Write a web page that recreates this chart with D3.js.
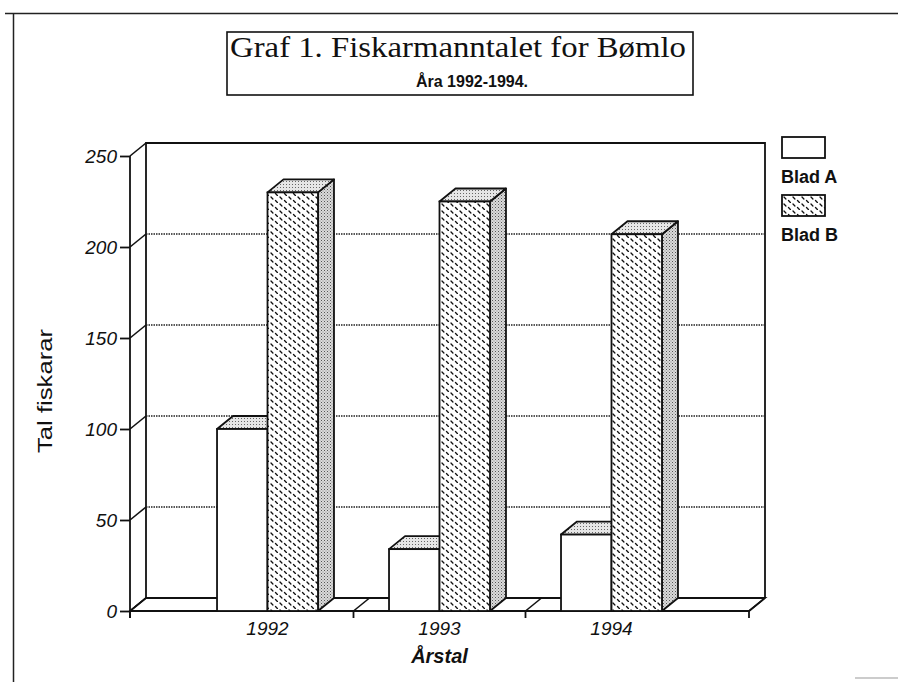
<!DOCTYPE html>
<html><head><meta charset="utf-8">
<script src="https://cdn.jsdelivr.net/npm/d3@7"></script>
<style>html,body{margin:0;padding:0;background:#fff;}svg{display:block;}</style>
</head><body>
<script>
const categories = ["1992", "1993", "1994"];
const seriesNames = ["Blad A", "Blad B"];
const bladA = [100, 34, 42];
const bladB = [230, 225, 207];
const yTicks = [0, 50, 100, 150, 200, 250];
const titleText = "Graf 1. Fiskarmanntalet for Bømlo";
const subtitleText = "Åra 1992-1994.";
const yLabel = "Tal fiskarar";
const xLabel = "Årstal";

const W = 898, H = 682;
const DX = 16, DY = 13;
const sans = "'Liberation Sans', Arial, Helvetica, sans-serif";

const svg = d3.select("body").append("svg").attr("width", W).attr("height", H);
const defs = svg.append("defs");

// diamond-plate pattern
const pB = defs.append("pattern").attr("id", "plate").attr("patternUnits", "userSpaceOnUse")
  .attr("width", 9).attr("height", 7);
pB.append("rect").attr("width", 9).attr("height", 7).attr("fill", "#fff");
pB.append("path").attr("d", "M1,1 L2.9,3 M5.5,4.5 L7.4,6.5")
  .attr("stroke", "#111").attr("stroke-width", 1.3).attr("stroke-linecap", "round");
// stipple patterns
const pS = defs.append("pattern").attr("id", "stipSide").attr("patternUnits", "userSpaceOnUse")
  .attr("width", 3).attr("height", 3);
pS.append("rect").attr("width", 3).attr("height", 3).attr("fill", "#dadada");
pS.append("rect").attr("x", 0).attr("y", 0).attr("width", 1).attr("height", 1).attr("fill", "#555");
pS.append("rect").attr("x", 1.5).attr("y", 1.5).attr("width", 1).attr("height", 1).attr("fill", "#888");
const pT = defs.append("pattern").attr("id", "stipTop").attr("patternUnits", "userSpaceOnUse")
  .attr("width", 3).attr("height", 3);
pT.append("rect").attr("width", 3).attr("height", 3).attr("fill", "#e6e6e6");
pT.append("rect").attr("x", 1).attr("y", 1).attr("width", 1).attr("height", 1).attr("fill", "#666");

// outer frame
svg.append("path").attr("d", `M5,13.5 L898,13.5 M13.5,13 L13.5,682`)
  .attr("stroke", "#222").attr("stroke-width", 1.5).attr("fill", "none");
svg.append("line").attr("x1", 855).attr("x2", 898).attr("y1", 678).attr("y2", 678)
  .attr("stroke", "#bbb").attr("stroke-width", 1.5);

// title box
svg.append("rect").attr("x", 227).attr("y", 32).attr("width", 466).attr("height", 63)
  .attr("fill", "#fff").attr("stroke", "#111").attr("stroke-width", 1.6);
svg.append("text").attr("x", 458).attr("y", 57).attr("text-anchor", "middle")
  .attr("font-family", "'Liberation Serif', 'DejaVu Serif', serif").attr("font-size", 29)
  .attr("textLength", 456).attr("lengthAdjust", "spacingAndGlyphs")
  .attr("fill", "#111").text(titleText);
svg.append("text").attr("x", 472).attr("y", 87).attr("text-anchor", "middle")
  .attr("font-family", sans).attr("font-weight", "bold").attr("font-size", 16)
  .attr("fill", "#111").text(subtitleText);

// scales
const y = d3.scaleLinear().domain([0, 250]).range([611, 156]);
const x = d3.scaleBand().domain(categories).range([130, 749]).paddingInner(0.413).paddingOuter(0.506);
const xs = d3.scaleBand().domain(seriesNames).range([0, x.bandwidth()]);
const y0 = y(0);
const xL = x.range()[0], xR = x.range()[1];

const g = svg.append("g");
const stroke = "#111";

// back wall
g.append("path")
  .attr("d", `M${xL + DX},${y0 - DY} L${xL + DX},${y(250) - DY} L${xR + DX},${y(250) - DY} L${xR + DX},${y0 - DY}`)
  .attr("fill", "none").attr("stroke", stroke).attr("stroke-width", 1.8);
// gridlines (dotted) on back wall
g.selectAll(".grid").data(yTicks.filter(v => v > 0 && v < 250)).join("line")
  .attr("x1", xL + DX).attr("x2", xR + DX)
  .attr("y1", d => y(d) - DY).attr("y2", d => y(d) - DY)
  .attr("stroke", "#222").attr("stroke-width", 1.3).attr("stroke-dasharray", "1.5,1");
// side wall diagonals
g.selectAll(".diag").data(yTicks).join("line")
  .attr("x1", xL).attr("y1", d => y(d)).attr("x2", xL + DX).attr("y2", d => y(d) - DY)
  .attr("stroke", stroke).attr("stroke-width", 1.6);

// floor
const bounds = [xL, ...categories.slice(1).map(c => x(c) - x.step() * x.paddingInner() / 2), xR];
g.append("path")
  .attr("d", `M${xL},${y0} L${xR},${y0} L${xR + DX},${y0 - DY} L${xL + DX},${y0 - DY} Z`)
  .attr("fill", "#fff").attr("stroke", stroke).attr("stroke-width", 1.8);
g.selectAll(".fdiag").data(bounds).join("line")
  .attr("x1", d => d).attr("y1", y0).attr("x2", d => d + DX).attr("y2", y0 - DY)
  .attr("stroke", stroke).attr("stroke-width", 1.6);
g.selectAll(".xtick").data(bounds).join("line")
  .attr("x1", d => d).attr("x2", d => d).attr("y1", y0).attr("y2", y0 + 7)
  .attr("stroke", stroke).attr("stroke-width", 1.8);

// y axis
const yAxis = d3.axisLeft(y).tickValues(yTicks).tickSize(10).tickPadding(3);
const ya = g.append("g").attr("transform", `translate(${xL},0)`).call(yAxis);
ya.select(".domain").attr("stroke", stroke).attr("stroke-width", 1.8).attr("d", `M0,${y(250)} V${y0 + 7}`);
ya.selectAll(".tick line").attr("stroke", stroke).attr("stroke-width", 1.8);
ya.selectAll(".tick text").attr("font-family", sans).attr("font-style", "italic")
  .attr("font-size", 19).attr("fill", "#111");

// bars
const bars = [];
categories.forEach((c, i) => {
  bars.push({ cat: c, s: seriesNames[0], v: bladA[i] });
  bars.push({ cat: c, s: seriesNames[1], v: bladB[i] });
});
const bg = g.append("g");
bars.forEach(b => {
  const bx = x(b.cat) + xs(b.s), bw = xs.bandwidth(), yt = y(b.v);
  const front = b.s === seriesNames[0] ? "#fff" : "url(#plate)";
  bg.append("path")
    .attr("d", `M${bx + bw},${yt} L${bx + bw + DX},${yt - DY} L${bx + bw + DX},${y0 - DY} L${bx + bw},${y0} Z`)
    .attr("fill", "url(#stipSide)").attr("stroke", stroke).attr("stroke-width", 1.8).attr("stroke-linejoin", "round");
  bg.append("path")
    .attr("d", `M${bx},${yt} L${bx + DX},${yt - DY} L${bx + bw + DX},${yt - DY} L${bx + bw},${yt} Z`)
    .attr("fill", "url(#stipTop)").attr("stroke", stroke).attr("stroke-width", 1.8).attr("stroke-linejoin", "round");
  bg.append("rect").attr("x", bx).attr("y", yt).attr("width", bw).attr("height", y0 - yt)
    .attr("fill", front).attr("stroke", stroke).attr("stroke-width", 1.8);
});

// x axis labels
const xAxis = d3.axisBottom(x).tickSize(0).tickPadding(12);
const xa = g.append("g").attr("transform", `translate(0,${y0 + 12})`).call(xAxis);
xa.select(".domain").remove();
xa.selectAll(".tick text").attr("font-family", sans).attr("font-style", "italic")
  .attr("font-size", 19).attr("fill", "#111").attr("dy", "0").attr("y", 12);

// axis titles
svg.append("text").attr("x", x("1993") + x.bandwidth() / 2).attr("y", 663).attr("text-anchor", "middle")
  .attr("font-family", sans).attr("font-weight", "bold").attr("font-style", "italic")
  .attr("font-size", 20).attr("fill", "#111").text(xLabel);
svg.append("text").attr("transform", "translate(52,391) rotate(-90)").attr("text-anchor", "middle")
  .attr("font-family", sans).attr("font-size", 20).attr("textLength", 124).attr("lengthAdjust", "spacingAndGlyphs")
  .attr("fill", "#111").text(yLabel);

// legend
const legend = svg.append("g");
const legY = [137, 195];
seriesNames.forEach((s, i) => {
  legend.append("rect").attr("x", 782).attr("y", legY[i]).attr("width", 43).attr("height", 21)
    .attr("fill", i === 0 ? "#fff" : "url(#plate)").attr("stroke", stroke).attr("stroke-width", 1.8);
  legend.append("text").attr("x", 781).attr("y", legY[i] + 46)
    .attr("font-family", sans).attr("font-weight", "bold").attr("font-size", 18)
    .attr("fill", "#111").text(s);
});
</script>
</body></html>
